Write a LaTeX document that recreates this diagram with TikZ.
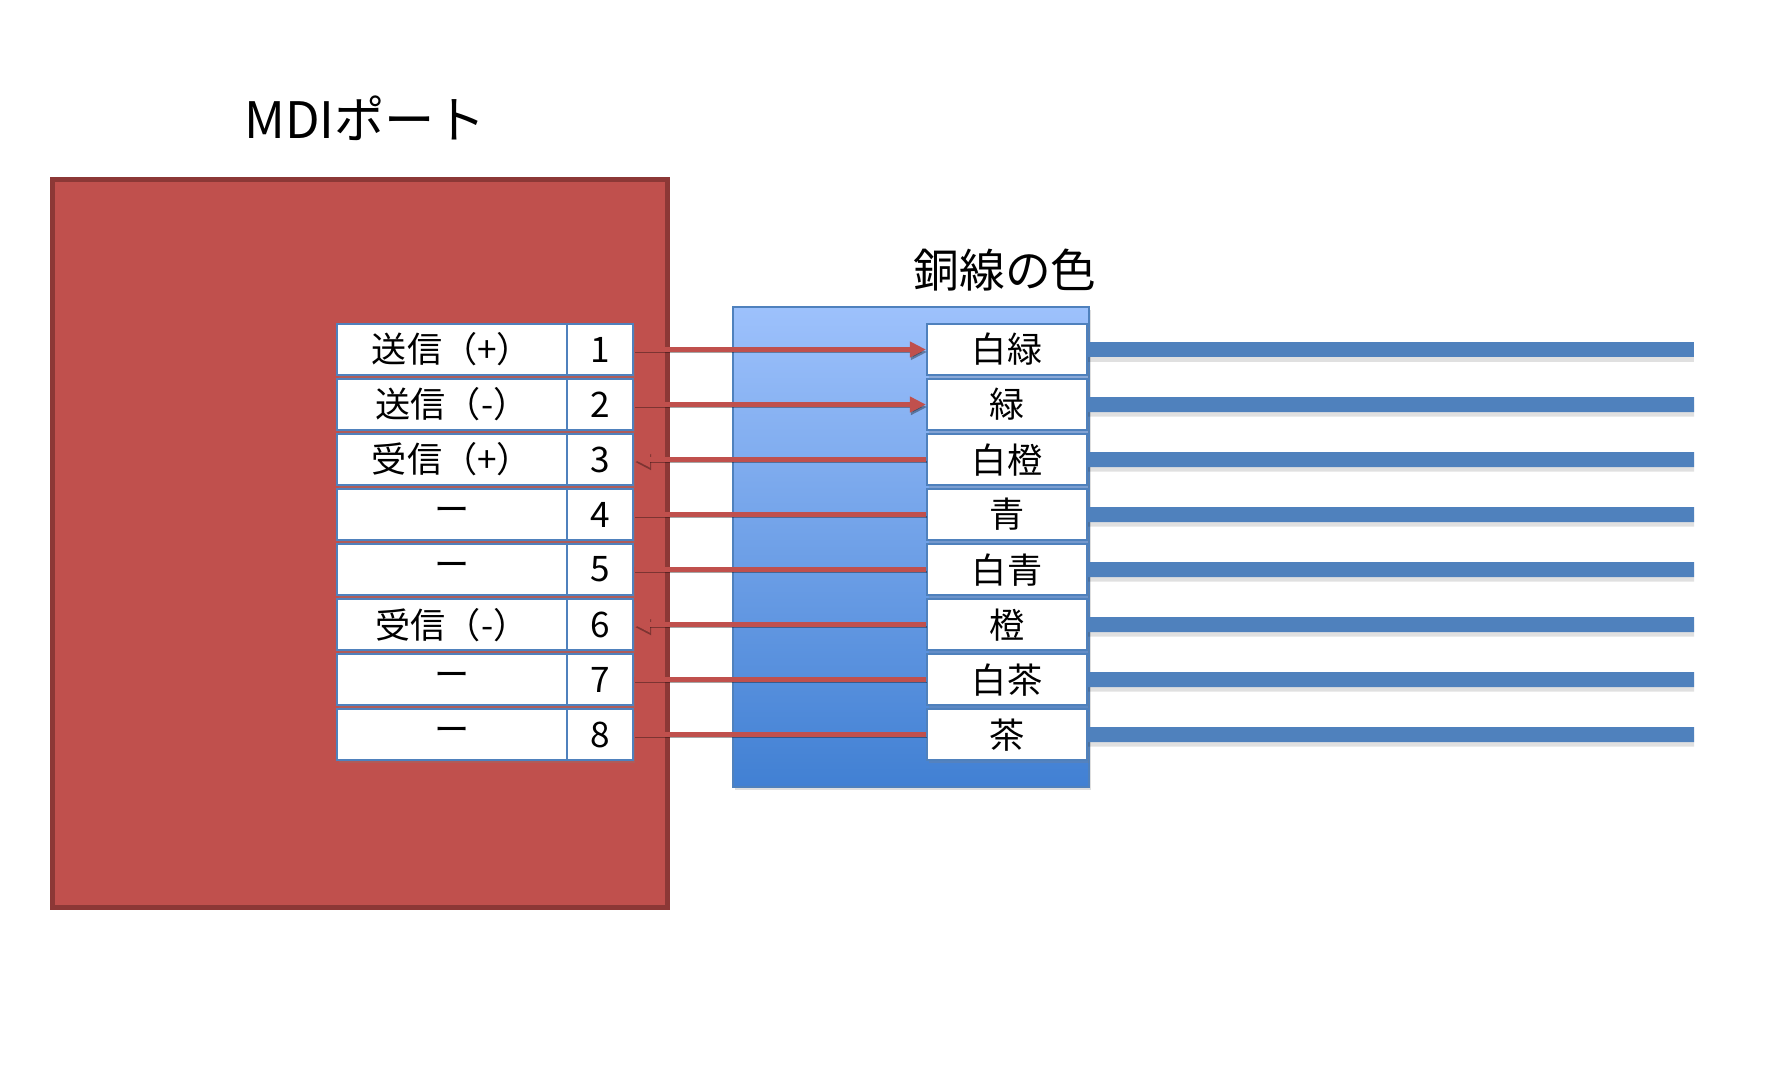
\documentclass[tikz,border=0pt]{standalone}
\usepackage{fontspec}
\setmainfont{Noto Sans CJK JP}
\usetikzlibrary{positioning, arrows.meta, shadows}
\definecolor{portred}{HTML}{C0504D}
\definecolor{portedge}{HTML}{8C3836}
\definecolor{accblue}{HTML}{4F81BD}
\definecolor{sheettop}{HTML}{9DC1FC}
\definecolor{sheetbot}{HTML}{4180D3}

\begin{document}
\begin{tikzpicture}[
  x=0.01cm, y=-0.01cm,
  font=\fontsize{10pt}{12pt}\selectfont,
  cell/.style={draw=accblue, line width=0.02cm, fill=white, inner sep=0pt,
               minimum height=0.51cm,
               drop shadow={opacity=0.25, shadow xshift=0.02cm, shadow yshift=-0.03cm}},
  sigbox/.style={cell, minimum width=2.30cm},
  pinbox/.style={cell, minimum width=0.66cm},
  colbox/.style={cell, minimum width=1.60cm},
  headtext/.style={font=\fontsize{13pt}{15pt}\selectfont},
  wireln/.style={portred, line width=0.045cm,
                 preaction={draw=black, opacity=0.35,
                            transform canvas={xshift=0.01cm, yshift=-0.025cm}}},
  sendln/.style={wireln, -{Triangle[length=0.16cm, width=0.15cm]}},
  cable/.style={accblue, line width=0.15cm,
                preaction={draw=black, opacity=0.12, line width=0.12cm,
                           transform canvas={yshift=-0.06cm}}}
]
\useasboundingbox (0,0) rectangle (1790,1072);

% MDI port side
\node[headtext, font=\fontsize{14.3pt}{16pt}\selectfont] (porttitle) at (365,118) {MDIポート};
\node[draw=portedge, fill=portred, line width=0.05cm,
      minimum width=6.14cm, minimum height=7.28cm] (port) at (360,543.5) {};

% copper wire sheet
\node[headtext] (sheettitle) at (1005,270) {銅線の色};
\node[draw=accblue, line width=0.015cm, top color=sheettop, bottom color=sheetbot,
      minimum width=3.56cm, minimum height=4.80cm,
      drop shadow={opacity=0.25, shadow xshift=0.02cm, shadow yshift=-0.03cm}]
  (sheet) at (911,547) {};

% signal names
\node[sigbox] (sig1) at (452,349.5) {送信（+）};
\node[sigbox, below=0.02cm of sig1] (sig2) {送信（-）};
\node[sigbox, below=0.02cm of sig2] (sig3) {受信（+）};
\node[sigbox, below=0.02cm of sig3] (sig4) {ー};
\node[sigbox, below=0.02cm of sig4] (sig5) {ー};
\node[sigbox, below=0.02cm of sig5] (sig6) {受信（-）};
\node[sigbox, below=0.02cm of sig6] (sig7) {ー};
\node[sigbox, below=0.02cm of sig7] (sig8) {ー};

% pin numbers
\node[pinbox, right=-0.02cm of sig1] (pin1) {1};
\node[pinbox, right=-0.02cm of sig2] (pin2) {2};
\node[pinbox, right=-0.02cm of sig3] (pin3) {3};
\node[pinbox, right=-0.02cm of sig4] (pin4) {4};
\node[pinbox, right=-0.02cm of sig5] (pin5) {5};
\node[pinbox, right=-0.02cm of sig6] (pin6) {6};
\node[pinbox, right=-0.02cm of sig7] (pin7) {7};
\node[pinbox, right=-0.02cm of sig8] (pin8) {8};

% wire colours
\node[colbox] (col1) at (1007,349.5) {白緑};
\node[colbox, below=0.02cm of col1] (col2) {緑};
\node[colbox, below=0.02cm of col2] (col3) {白橙};
\node[colbox, below=0.02cm of col3] (col4) {青};
\node[colbox, below=0.02cm of col4] (col5) {白青};
\node[colbox, below=0.02cm of col5] (col6) {橙};
\node[colbox, below=0.02cm of col6] (col7) {白茶};
\node[colbox, below=0.02cm of col7] (col8) {茶};

% cable ends
\coordinate (wend1) at (1694,349.5);
\coordinate (wend2) at (1694,404.5);
\coordinate (wend3) at (1694,459.5);
\coordinate (wend4) at (1694,514.5);
\coordinate (wend5) at (1694,569.5);
\coordinate (wend6) at (1694,624.5);
\coordinate (wend7) at (1694,679.5);
\coordinate (wend8) at (1694,734.5);

\draw[cable] (col1.east) -- (wend1);
\draw[cable] (col2.east) -- (wend2);
\draw[cable] (col3.east) -- (wend3);
\draw[cable] (col4.east) -- (wend4);
\draw[cable] (col5.east) -- (wend5);
\draw[cable] (col6.east) -- (wend6);
\draw[cable] (col7.east) -- (wend7);
\draw[cable] (col8.east) -- (wend8);

% pin to wire
\draw[sendln] (pin1.east) -- (col1.west);
\draw[sendln] (pin2.east) -- (col2.west);
\draw[sendln] (col3.west) -- (pin3.east);
\draw[wireln] (pin4.east) -- (col4.west);
\draw[wireln] (pin5.east) -- (col5.west);
\draw[sendln] (col6.west) -- (pin6.east);
\draw[wireln] (pin7.east) -- (col7.west);
\draw[wireln] (pin8.east) -- (col8.west);
\end{tikzpicture}
\end{document}
